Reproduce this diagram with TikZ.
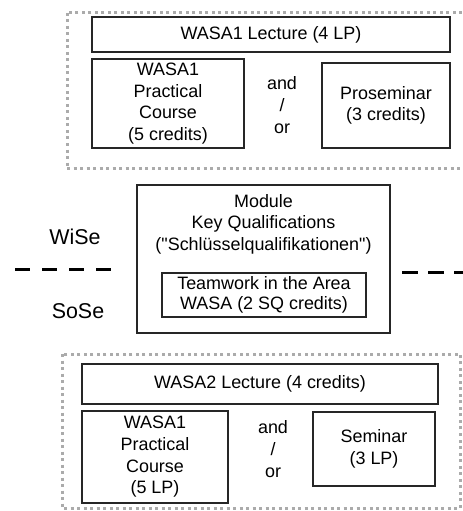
\documentclass[tikz,border=0pt]{standalone}
\usepackage{fontspec}
\setmainfont{Liberation Sans}[Ligatures=TeXOff]
\begin{document}
\begin{tikzpicture}[x=1bp,y=-1bp,
  every node/.style={font=\fontsize{18}{21.7}\selectfont, align=center, inner sep=0pt},
  box/.style={draw=black!85, line width=1.1bp, rectangle},
  grp/.style={draw=black!33, line width=3bp, dash pattern=on 3bp off 3.5bp},
  sep/.style={draw=black, line width=3bp},
  sem/.style={font=\fontsize{21.5}{24}\selectfont}
]
\useasboundingbox (0,0) rectangle (463,511);
% group borders
\draw[grp] (67,13) rectangle (466,169);
\draw[grp] (62,354) rectangle (460,508);
% top group
\node[box, minimum width=358bp, minimum height=35bp] (lec1) at (271,34.5) {WASA1 Lecture (4 LP)};
\node[box, minimum width=152bp, minimum height=89bp] (prac1) at (168,103.5) {WASA1\\Practical\\Course\\(5 credits)};
\node (andor1) at (282,105) {and\\/\\or};
\node[box, minimum width=128bp, minimum height=85bp] (prosem) at (386,105.5) {Proseminar\\(3 credits)};
% middle module
\node[box, minimum width=253bp, minimum height=148bp] (module) at (263.5,259) {};
\node (modtitle) at (263.5,224) {Module\\Key Qualifications\\("Schlüsselqualifikationen")};
\node[box, minimum width=204bp, minimum height=44bp, font=\fontsize{18}{20.5}\selectfont] (team) at (264,295) {Teamwork in the Area\\WASA (2 SQ credits)};
\node[sem] (wise) at (75,237) {WiSe};
\node[sem] (sose) at (78,311) {SoSe};
\coordinate (l1) at (15,269);
\coordinate (l2) at (111,269);
\coordinate (r1) at (402,272);
\coordinate (r2) at (470,272);
\draw[sep, dash pattern=on 15bp off 12bp] (l1) -- (l2);
\draw[sep, dash pattern=on 16bp off 10bp] (r1) -- (r2);
% bottom group
\node[box, minimum width=356bp, minimum height=40bp] (lec2) at (260,384) {WASA2 Lecture (4 credits)};
\node[box, minimum width=146bp, minimum height=92bp] (prac2) at (155,457) {WASA1\\Practical\\Course\\(5 LP)};
\node (andor2) at (273,449) {and\\/\\or};
\node[box, minimum width=122bp, minimum height=74bp] (sem) at (374,449) {Seminar\\(3 LP)};
\end{tikzpicture}
\end{document}
